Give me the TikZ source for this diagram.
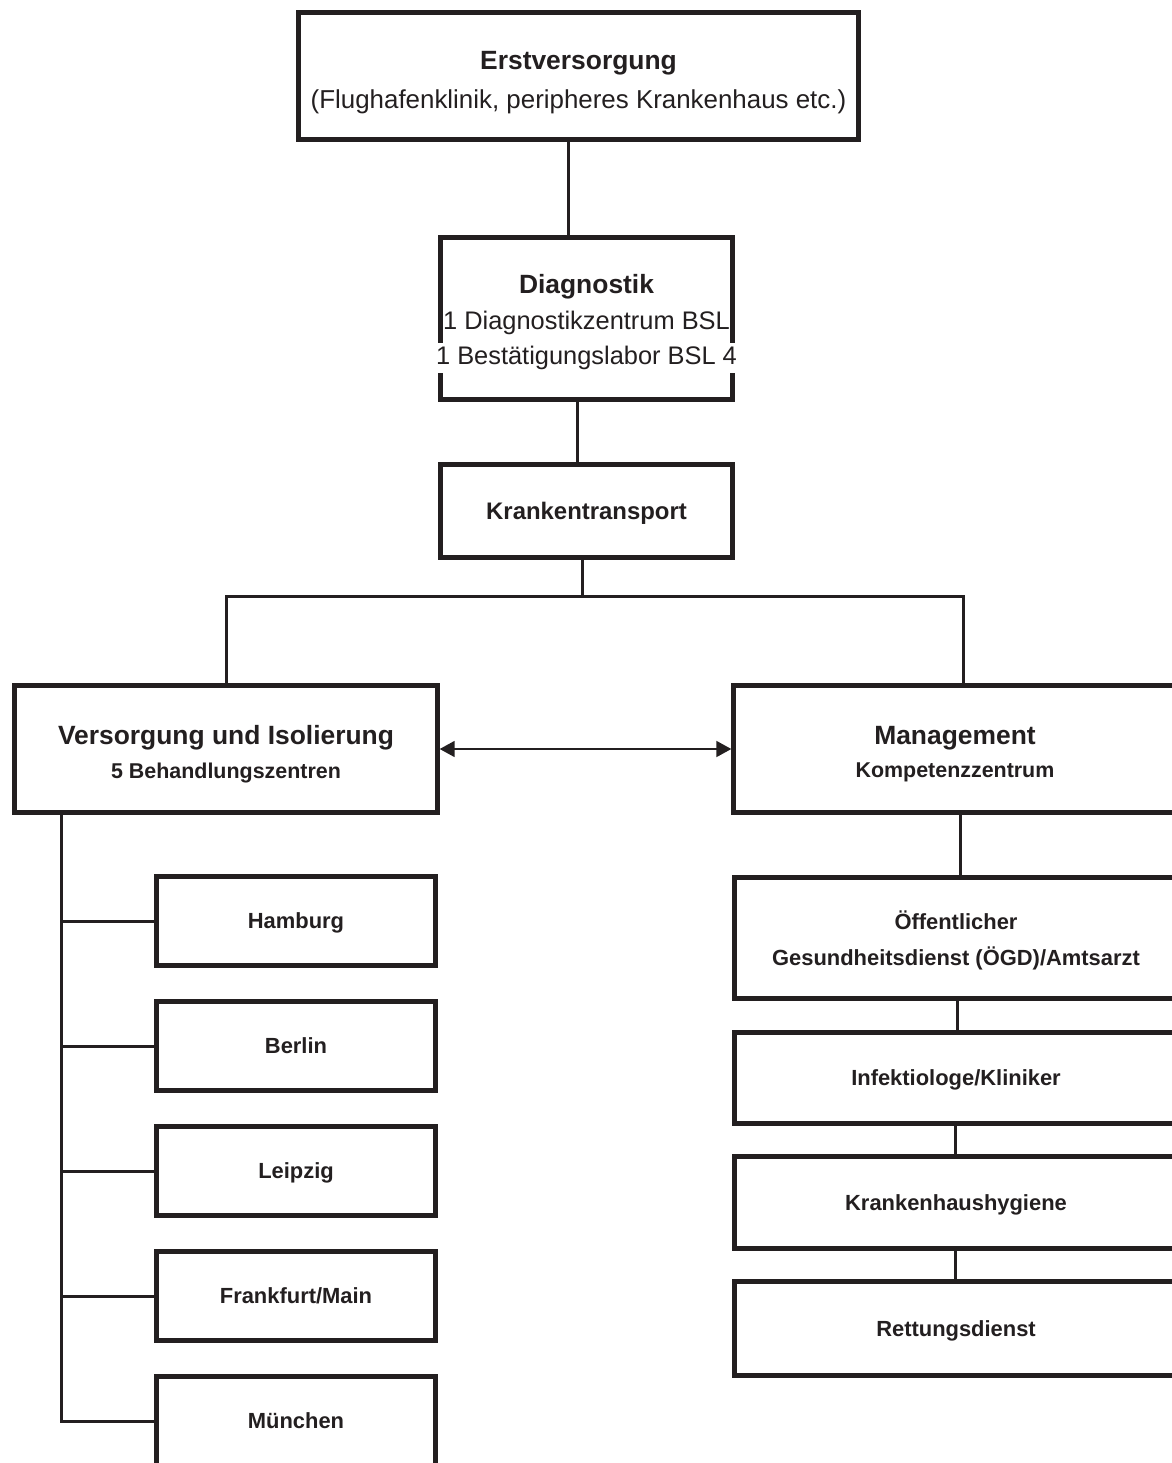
\documentclass[tikz,border=0pt]{standalone}
\usepackage{fontspec}
\setmainfont{Liberation Sans}
\usetikzlibrary{arrows.meta}
\definecolor{ink}{HTML}{231F20}
\begin{document}
\begin{tikzpicture}[x=1bp,y=-1bp,
  box/.style={draw=ink, line width=5bp, rectangle, inner sep=0pt, text=ink, align=center, text depth=0pt},
  conn/.style={draw=ink, line width=3bp},
  big/.style={font=\fontsize{26.5}{36}\selectfont\bfseries},
  reg/.style={font=\fontsize{25.5}{36}\selectfont},
  reg2/.style={font=\fontsize{26}{36}\selectfont},
  sub/.style={font=\fontsize{21.5}{36}\selectfont\bfseries},
  sml/.style={font=\fontsize{22}{36}\selectfont\bfseries},
  txt/.style={text=ink, inner sep=0pt, align=center, text depth=0pt}]
\useasboundingbox (0,0) rectangle (1171,1463);
\fill[white] (0,0) rectangle (1171,1463);

% top chain
\node[box, minimum width=563, minimum height=128] (erst) at (578.5,76) {};
\node[txt, big] (erst1) at (578.5,60) {Erstversorgung};
\node[txt, reg2] (erst2) at (578.5,99) {(Flughafenklinik, peripheres Krankenhaus etc.)};
\node[box, minimum width=293, minimum height=163] (diag) at (586.5,318.5) {};
\node[txt, big] (diag1) at (586.5,284) {Diagnostik};
\node[txt, reg] (diag2) at (586.5,320) {1 Diagnostikzentrum BSL};
\node[txt, reg, fill=white, inner ysep=3bp, inner xsep=2bp, text depth=6bp] (diag3) at (586.5,358) {1 Bestätigungslabor BSL 4};
\node[box, minimum width=293, minimum height=94, font=\fontsize{24}{30}\selectfont\bfseries] (krank) at (586.5,511) {Krankentransport};

\draw[conn] (568,0 |- erst.south) -- (568,0 |- diag.north);
\draw[conn] (577,0 |- diag.south) -- (577,0 |- krank.north);

% split
\node[box, minimum width=424, minimum height=128] (vers) at (226,749) {};
\node[txt, big] (vers1) at (226,735) {Versorgung und Isolierung};
\node[txt, sub] (vers2) at (226,771) {5 Behandlungszentren};
\node[box, minimum width=444, minimum height=128] (mgmt) at (955,749) {};
\node[txt, big] (mgmt1) at (955,735) {Management};
\node[txt, sub] (mgmt2) at (955,770) {Kompetenzzentrum};
\coordinate (split) at (582,596);
\draw[conn] (krank.south -| split) -- (split);
\draw[conn] (vers.north) |- (split) -| (963,0 |- mgmt.north);
\draw[draw=ink, line width=1.8bp, {Triangle[length=15bp,width=16bp]}-{Triangle[length=15bp,width=16bp]}] (vers.east) -- (mgmt.west);

% cities
\begin{scope}[every node/.style={box, sml, minimum width=281, minimum height=89}]
\node (ham) at (296,921) {Hamburg};
\node (ber) at (296,1046) {Berlin};
\node (lei) at (296,1171) {Leipzig};
\node (fra) at (296,1296) {Frankfurt/Main};
\node (mue) at (296,1421) {München};
\end{scope}
\draw[conn] (61,0 |- vers.south) |- (mue.west);
\foreach \c in {ham,ber,lei,fra} \draw[conn] (61,0 |- \c.west) -- (\c.west);

% right column
\node[box, minimum width=444, minimum height=122] (oegd) at (956,938) {};
\node[txt, sml] (oegd1) at (956,920) {Öffentlicher};
\node[txt, sml] (oegd2) at (956,956) {Gesundheitsdienst (ÖGD)/Amtsarzt};
\begin{scope}[every node/.style={box, sml, minimum width=444}]
\node[minimum height=92] (inf) at (956,1078) {Infektiologe/Kliniker};
\node[minimum height=92] (hyg) at (956,1202.5) {Krankenhaushygiene};
\node[minimum height=95] (rett) at (956,1328.5) {Rettungsdienst};
\end{scope}
\draw[conn] (960,0 |- mgmt.south) -- (960,0 |- oegd.north);
\draw[conn] (957,0 |- oegd.south) -- (957,0 |- inf.north);
\draw[conn] (955,0 |- inf.south) -- (955,0 |- hyg.north);
\draw[conn] (955,0 |- hyg.south) -- (955,0 |- rett.north);
\end{tikzpicture}
\end{document}
